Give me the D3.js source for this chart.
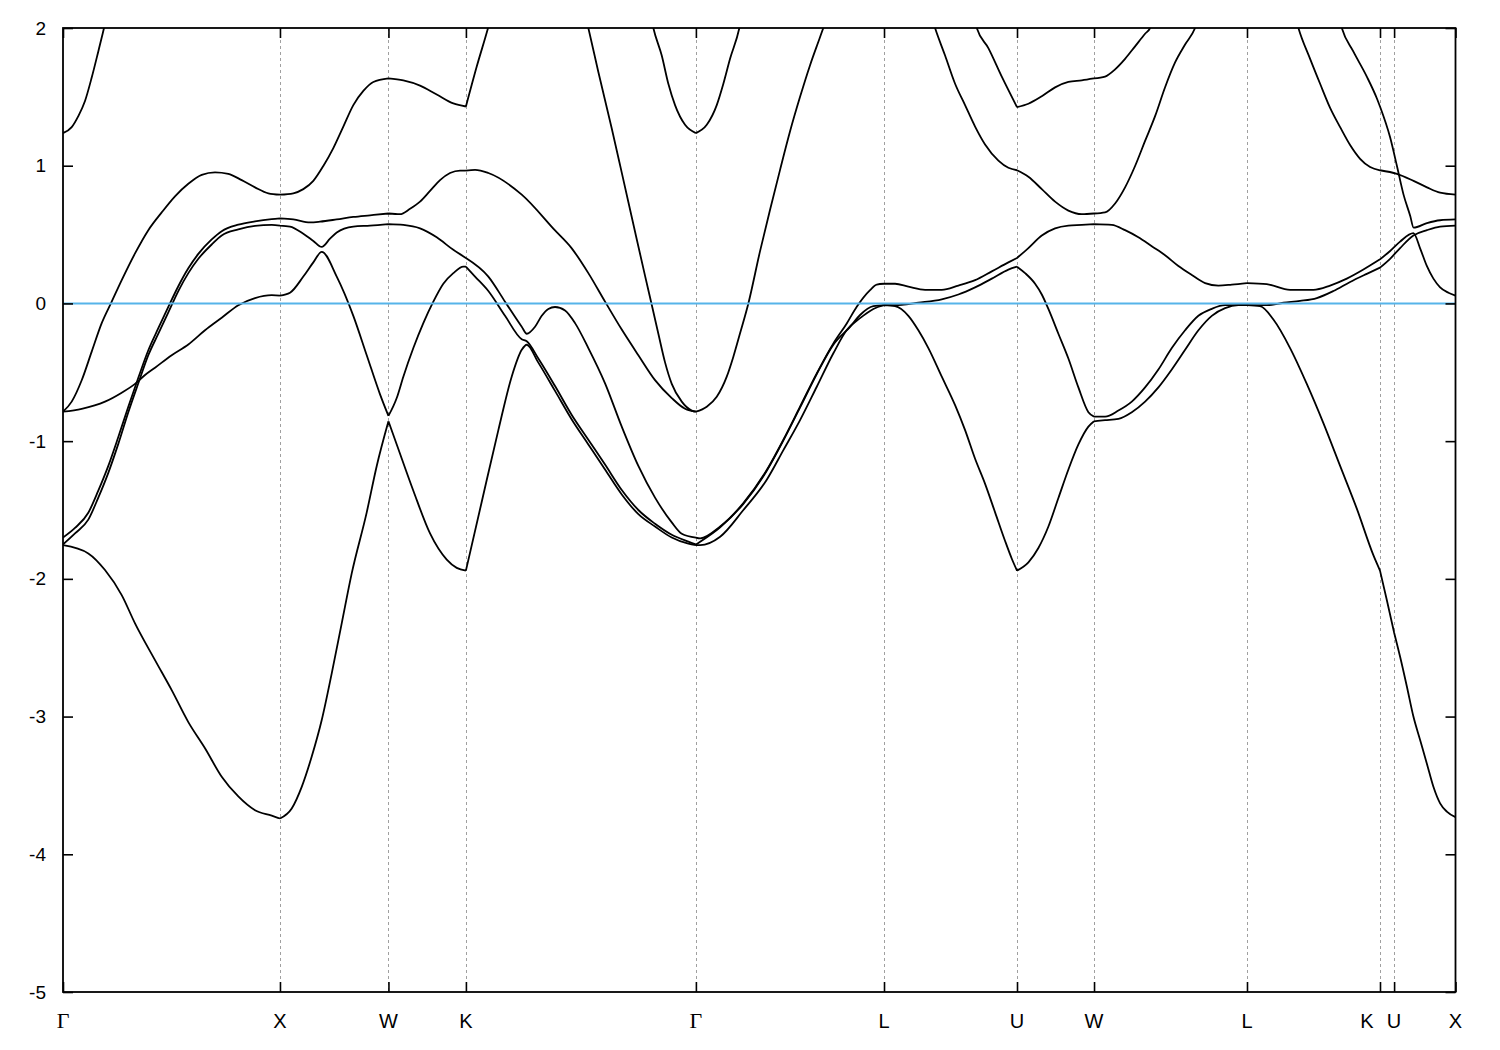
<!DOCTYPE html>
<html>
<head>
<meta charset="utf-8">
<script src="https://cdn.jsdelivr.net/npm/d3@7"></script>
<style>
  html, body { margin: 0; padding: 0; background: #ffffff; }
  svg { display: block; }
</style>
</head>
<body>
<div id="chart"></div>
<script>
// ---------- data ----------
const kTicks  = [0, 1.0, 1.5, 1.857, 2.917, 3.784, 4.397, 4.752, 5.457, 6.070, 6.135, 6.418];
const kLabels = ["Γ", "X", "W", "K", "Γ", "L", "U", "W", "L", "K", "U", "X"];
const eTicks  = [-5, -4, -3, -2, -1, 0, 1, 2];
const eRange  = [-5, 2];
const fermiLevel = 0;

const band1 = [
  [0,-1.755],[0.1166,-1.815],[0.1936,-1.936],[0.2706,-2.118],[0.3319,-2.323],[0.4241,-2.59],[0.5010,-2.808],[0.5776,-3.04],[0.6545,-3.23],[0.7315,-3.437],[0.8080,-3.58],[0.8850,-3.68],[0.9620,-3.72],[1.0,-3.74],
  [1.0542,-3.667],[1.1003,-3.51],[1.1464,-3.29],[1.1925,-3.025],[1.2386,-2.686],[1.2846,-2.323],[1.3307,-1.96],[1.3999,-1.517],[1.4460,-1.18],[1.5,-0.856],
  [1.5382,-1.024],[1.6147,-1.36],[1.6917,-1.67],[1.7686,-1.86],[1.8147,-1.92],[1.857,-1.94],
  [1.9300,-1.44],[2.0065,-0.92],[2.0683,-0.53],[2.1144,-0.337],[2.1374,-0.30],
  [2.1908,-0.43],[2.2678,-0.635],[2.3448,-0.843],[2.4213,-1.024],[2.4983,-1.206],[2.5753,-1.387],[2.6518,-1.53],[2.7287,-1.62],[2.8057,-1.70],[2.8822,-1.745],[2.917,-1.755],
  [2.9366,-1.755],[3.0288,-1.694],[3.1358,-1.50],[3.2436,-1.28],[3.3202,-1.065],[3.3971,-0.847],[3.4741,-0.605],[3.5506,-0.362],[3.6123,-0.193],[3.6737,-0.107],[3.7350,-0.04],[3.784,-0.013],
  [3.8350,-0.02],[3.8963,-0.09],[3.9424,-0.195],[3.9885,-0.324],[4.0503,-0.532],[4.1116,-0.739],[4.1577,-0.92],[4.2038,-1.128],[4.2499,-1.31],[4.2960,-1.517],[4.3421,-1.725],[4.3730,-1.854],[4.397,-1.94],
  [4.4495,-1.88],[4.4956,-1.776],[4.5417,-1.62],[4.5878,-1.413],[4.6339,-1.206],[4.6800,-1.024],[4.7261,-0.895],[4.752,-0.856],
  [4.8030,-0.848],[4.8643,-0.838],[4.9261,-0.79],[4.9874,-0.713],[5.0487,-0.61],[5.1104,-0.48],[5.1718,-0.337],[5.2331,-0.195],[5.2948,-0.09],[5.3561,-0.034],[5.4174,-0.013],[5.457,-0.013],
  [5.5174,-0.02],[5.5787,-0.117],[5.6556,-0.324],[5.7326,-0.584],[5.8091,-0.869],[5.8862,-1.18],[5.9631,-1.49],[6.0399,-1.83],[6.070,-1.94],
  [6.1014,-2.154],[6.135,-2.39],[6.1627,-2.566],[6.1936,-2.78],[6.2240,-3.0],[6.2549,-3.17],[6.2858,-3.34],[6.3162,-3.51],[6.3471,-3.63],[6.3780,-3.69],[6.418,-3.73]
];

const band2 = [
  [0,-1.75],[0.0553,-1.67],[0.1166,-1.57],[0.1627,-1.41],[0.2088,-1.23],[0.2549,-1.02],[0.3010,-0.79],[0.3471,-0.58],[0.3932,-0.376],[0.4393,-0.22],[0.4854,-0.065],[0.5315,0.09],[0.5776,0.22],[0.6237,0.324],[0.6854,0.428],[0.7315,0.493],[0.8080,0.537],[0.8850,0.563],[0.9620,0.57],[1.0,0.565],
  [1.0463,0.558],[1.1076,0.506],[1.1537,0.454],[1.1925,0.41],[1.2307,0.47],[1.2616,0.515],[1.3381,0.558],[1.4151,0.565],[1.5,0.576],
  [1.5686,0.57],[1.6456,0.545],[1.7225,0.48],[1.7990,0.389],[1.857,0.33],
  [1.9604,0.195],[2.0373,0.013],[2.1143,-0.169],[2.1374,-0.22],[2.1756,-0.169],[2.2065,-0.09],[2.2369,-0.04],[2.2678,-0.026],[2.3139,-0.052],[2.3600,-0.143],[2.4213,-0.324],[2.4983,-0.58],[2.5753,-0.895],[2.6518,-1.18],[2.7287,-1.41],[2.8057,-1.59],[2.8518,-1.672],[2.917,-1.70],
  [2.9366,-1.706],[3.0288,-1.62],[3.1358,-1.45],[3.2436,-1.21],[3.3202,-0.99],[3.3971,-0.75],[3.4741,-0.508],[3.5506,-0.29],[3.6123,-0.145],[3.6584,-0.024],[3.7197,0.097],[3.7506,0.137],[3.784,0.143],
  [3.8350,0.143],[3.8963,0.122],[3.9733,0.099],[4.0503,0.099],[4.1267,0.13],[4.2038,0.169],[4.2807,0.233],[4.3572,0.298],[4.397,0.33],
  [4.4494,0.402],[4.5112,0.493],[4.5725,0.545],[4.6338,0.565],[4.6956,0.57],[4.752,0.576],
  [4.8338,0.57],[4.8951,0.532],[4.9564,0.48],[5.0182,0.415],[5.0795,0.35],[5.1408,0.272],[5.2026,0.207],[5.2639,0.148],[5.3252,0.13],[5.3870,0.137],[5.457,0.148],
  [5.5483,0.14],[5.6557,0.099],[5.7631,0.099],[5.8401,0.13],[5.9170,0.18],[5.9936,0.246],[6.070,0.32],[6.1166,0.381],[6.1627,0.449],[6.2240,0.51],[6.2549,0.40],[6.2858,0.272],[6.3162,0.18],[6.3471,0.117],[6.3853,0.078],[6.418,0.057]
];

const band3 = [
  [0,-1.70],[0.0553,-1.63],[0.1166,-1.52],[0.1627,-1.36],[0.2088,-1.18],[0.2549,-0.97],[0.3010,-0.75],[0.3471,-0.54],[0.3932,-0.34],[0.4393,-0.18],[0.4854,-0.025],[0.5315,0.125],[0.5776,0.255],[0.6237,0.36],[0.6854,0.465],[0.7315,0.525],[0.8080,0.572],[0.8850,0.596],[0.9620,0.612],[1.0,0.617],
  [1.0615,0.61],[1.1385,0.589],[1.1846,0.594],[1.2616,0.61],[1.3381,0.628],[1.4151,0.64],[1.5,0.653],
  [1.5533,0.648],[1.5994,0.687],[1.6456,0.739],[1.6917,0.817],[1.7377,0.895],[1.7838,0.947],[1.8299,0.965],[1.857,0.965],
  [1.8991,0.97],[1.9604,0.947],[2.1143,0.79],[2.2678,0.53],[2.3448,0.40],[2.4213,0.22],[2.4983,0.013],[2.5753,-0.19],[2.6518,-0.376],[2.7287,-0.557],[2.8057,-0.687],[2.8670,-0.765],[2.917,-0.786],
  [2.9671,-0.75],[3.0131,-0.678],[3.0592,-0.532],[3.0897,-0.387],[3.1205,-0.217],[3.1588,0.0],[3.2127,0.38],[3.2588,0.68],[3.3049,0.97],[3.3510,1.25],[3.3971,1.50],[3.4432,1.73],[3.4815,1.90],[3.5045,2.0],[3.517,2.05],
  null,
  [4.0056,2.07],[4.0194,2.0],[4.0655,1.80],[4.1116,1.595],[4.1576,1.44],[4.2038,1.284],[4.2498,1.154],[4.3112,1.037],[4.3572,0.985],[4.397,0.967],
  [4.4494,0.92],[4.5112,0.83],[4.5725,0.739],[4.6338,0.674],[4.6956,0.648],[4.752,0.653],
  [4.8030,0.661],[4.8491,0.726],[4.8951,0.843],[4.9412,0.998],[4.9873,1.18],[5.0334,1.36],[5.0795,1.57],[5.1256,1.75],[5.1717,1.88],[5.2178,2.0],[5.2316,2.06],
  null,
  [5.6834,2.06],[5.6940,2.0],[5.7479,1.776],[5.7940,1.595],[5.8401,1.42],[5.8862,1.28],[5.9322,1.15],[5.9783,1.05],[6.0244,0.99],[6.070,0.967],[6.1481,0.941],[6.2246,0.89],[6.2864,0.843],[6.3471,0.804],[6.418,0.79]
];

const band4 = [
  [0,-0.786],[0.0862,-0.765],[0.1936,-0.713],[0.2706,-0.648],[0.3319,-0.584],[0.3780,-0.52],[0.4241,-0.467],[0.5010,-0.376],[0.5776,-0.298],[0.6545,-0.195],[0.7315,-0.104],[0.8080,-0.013],[0.8850,0.039],[0.9620,0.06],[1.0,0.057],
  [1.0463,0.078],[1.1076,0.195],[1.1537,0.298],[1.1925,0.375],[1.2616,0.195],[1.3381,-0.09],[1.3999,-0.376],[1.4612,-0.66],[1.5,-0.817],
  [1.5381,-0.687],[1.5686,-0.532],[1.6147,-0.324],[1.6607,-0.143],[1.7068,0.013],[1.7529,0.143],[1.7990,0.22],[1.8451,0.267],[1.857,0.267],
  [1.8991,0.195],[1.9604,0.09],[2.0373,-0.09],[2.1143,-0.26],[2.1374,-0.275],[2.1908,-0.40],[2.2678,-0.60],[2.3448,-0.81],[2.4213,-0.99],[2.4983,-1.17],[2.5753,-1.355],[2.6518,-1.50],[2.7287,-1.60],[2.8057,-1.68],[2.8822,-1.73],[2.917,-1.75],
  [2.9366,-1.73],[3.0288,-1.625],[3.1358,-1.455],[3.2436,-1.215],[3.3202,-0.995],[3.3971,-0.755],[3.4741,-0.513],[3.5506,-0.30],[3.6276,-0.17],[3.6737,-0.084],[3.7350,-0.02],[3.784,-0.013],
  [3.8659,-0.01],[3.9424,0.005],[4.0503,0.03],[4.1267,0.065],[4.2038,0.117],[4.2807,0.18],[4.3572,0.246],[4.397,0.267],
  [4.4342,0.22],[4.4803,0.143],[4.5112,0.065],[4.5416,-0.04],[4.5877,-0.22],[4.6338,-0.40],[4.6799,-0.61],[4.7260,-0.79],[4.752,-0.822],
  [4.8030,-0.822],[4.8643,-0.778],[4.9261,-0.713],[4.9873,-0.61],[5.0486,-0.48],[5.1104,-0.324],[5.1717,-0.195],[5.2330,-0.09],[5.2948,-0.039],[5.3561,-0.013],[5.457,-0.013],
  [5.5483,-0.013],[5.6248,0.005],[5.7018,0.018],[5.7787,0.039],[5.8553,0.09],[5.9322,0.156],[6.0092,0.215],[6.070,0.26],[6.1166,0.324],[6.1627,0.402],[6.2240,0.493],[6.2864,0.532],[6.3471,0.558],[6.418,0.565]
];

const band5 = [
  [0,-0.786],[0.0401,-0.713],[0.0862,-0.558],[0.1323,-0.35],[0.1784,-0.143],[0.2245,0.013],[0.2706,0.169],[0.3319,0.363],[0.3932,0.532],[0.4549,0.661],[0.5162,0.778],[0.5776,0.869],[0.6393,0.934],[0.7006,0.952],[0.7619,0.941],[0.8237,0.895],[0.8850,0.843],[0.9463,0.80],[1.0,0.79],
  [1.0615,0.80],[1.1076,0.83],[1.1537,0.89],[1.1998,0.998],[1.2459,1.128],[1.2920,1.284],[1.3381,1.44],[1.3842,1.543],[1.4303,1.608],[1.5,1.634],
  [1.5686,1.62],[1.6456,1.582],[1.7225,1.517],[1.7990,1.452],[1.857,1.43],
  [1.9069,1.72],[1.959,2.0],[1.9728,2.08],
  null,
  [2.4061,2.1],[2.4213,2.0],[2.4674,1.68],[2.5292,1.27],[2.5753,0.95],[2.6366,0.52],[2.6827,0.20],[2.7135,-0.01],[2.7440,-0.22],[2.7748,-0.428],[2.8057,-0.584],[2.8518,-0.713],[2.8979,-0.778],[2.917,-0.786],
  null,
  [4.1991,2.07],[4.2115,2.0],[4.2650,1.854],[4.3268,1.647],[4.397,1.426],
  [4.4494,1.45],[4.5112,1.504],[4.5725,1.569],[4.6338,1.608],[4.6956,1.62],[4.752,1.634],
  [4.8030,1.647],[4.8491,1.70],[4.8951,1.776],[4.9412,1.867],[4.9873,1.958],[5.0104,2.0],[5.0242,2.06],
  null,
  [5.8838,2.06],[5.8940,2.0],[5.9475,1.828],[6.0092,1.647],[6.0553,1.49],[6.070,1.43],[6.1166,1.206],[6.1481,0.998],[6.1785,0.79],[6.2094,0.635],[6.2250,0.55],[6.2864,0.583],[6.3471,0.604],[6.418,0.61]
];

const band6 = [
  [0,1.237],[0.0401,1.28],[0.0705,1.36],[0.1014,1.47],[0.1323,1.64],[0.1627,1.83],[0.1830,1.96],[0.1890,2.0],[0.1982,2.06],
  null,
  [2.7126,2.06],[2.7209,2.0],[2.7596,1.80],[2.7900,1.595],[2.8209,1.44],[2.8670,1.297],[2.917,1.237],[2.9671,1.297],[3.0131,1.44],[3.0436,1.595],[3.0744,1.776],[3.1173,2.0],[3.1251,2.06]
];

const bands = [band1, band2, band3, band4, band5, band6];

// ---------- layout ----------
const W = 1500, H = 1050;
const plot = { left: 63, right: 1455.5, top: 28, bottom: 992 };

const svg = d3.select("#chart").append("svg")
  .attr("width", W).attr("height", H)
  .style("background", "#fff");

const x = d3.scaleLinear().domain([kTicks[0], kTicks[kTicks.length - 1]]).range([plot.left, plot.right]);
const y = d3.scaleLinear().domain(eRange).range([plot.bottom, plot.top]);

svg.append("defs").append("clipPath").attr("id", "clip")
  .append("rect")
  .attr("x", plot.left).attr("y", plot.top)
  .attr("width", plot.right - plot.left).attr("height", plot.bottom - plot.top);

// dashed vertical lines at high-symmetry points
svg.append("g").selectAll("line")
  .data(kTicks.slice(1, -1))
  .join("line")
  .attr("x1", d => Math.round(x(d)) + 0.5).attr("x2", d => Math.round(x(d)) + 0.5)
  .attr("y1", plot.top).attr("y2", plot.bottom)
  .attr("stroke", "#a0a0a0").attr("stroke-width", 1)
  .attr("stroke-dasharray", "3,3");

// bands
function pieces(band) {
  const out = [];
  let cur = [];
  const isTick = k => kTicks.some(t => Math.abs(t - k) < 1e-6);
  for (const p of band) {
    if (p === null) { if (cur.length > 1) out.push(cur); cur = []; continue; }
    cur.push(p);
    if (isTick(p[0]) && cur.length > 1) { out.push(cur); cur = [p]; }
  }
  if (cur.length > 1) out.push(cur);
  return out;
}
const line = d3.line().x(d => x(d[0])).y(d => y(d[1])).curve(d3.curveMonotoneX);
const gBands = svg.append("g").attr("clip-path", "url(#clip)");
bands.forEach(b => {
  gBands.append("path")
    .attr("d", pieces(b).map(p => line(p)).join(""))
    .attr("fill", "none")
    .attr("stroke", "#000")
    .attr("stroke-width", 1.8)
    .attr("stroke-linejoin", "round");
});

// Fermi level
svg.append("line")
  .attr("x1", plot.left).attr("x2", plot.right)
  .attr("y1", y(fermiLevel)).attr("y2", y(fermiLevel))
  .attr("stroke", "#56b4e9").attr("stroke-width", 2);

// axes (gnuplot-style inward ticks on all sides)
const tickLen = 10;
const axL = d3.axisLeft(y).tickValues(eTicks).tickSize(-tickLen).tickPadding(tickLen + 7).tickFormat(d => String(d));
const axR = d3.axisRight(y).tickValues(eTicks).tickSize(-tickLen).tickFormat("");
const axB = d3.axisBottom(x).tickValues(kTicks).tickSize(-tickLen).tickFormat("");
const axT = d3.axisTop(x).tickValues(kTicks).tickSize(-tickLen).tickFormat("");

function styleAxis(g) {
  g.select(".domain").remove();
  g.selectAll(".tick line").attr("stroke", "#000").attr("stroke-width", 1.6);
}
svg.append("g").attr("transform", `translate(${plot.left},0)`).call(axL).call(styleAxis)
  .selectAll("text").attr("font-family", "Liberation Sans, Arial, sans-serif").attr("font-size", 19).attr("fill", "#000");
svg.append("g").attr("transform", `translate(${plot.right},0)`).call(axR).call(styleAxis);
svg.append("g").attr("transform", `translate(0,${plot.bottom})`).call(axB).call(styleAxis);
svg.append("g").attr("transform", `translate(0,${plot.top})`).call(axT).call(styleAxis);

// frame
svg.append("rect")
  .attr("x", plot.left).attr("y", plot.top)
  .attr("width", plot.right - plot.left).attr("height", plot.bottom - plot.top)
  .attr("fill", "none").attr("stroke", "#000").attr("stroke-width", 1.8);

// x tick labels
svg.append("g").selectAll("text")
  .data(kTicks.map((k, i) => ({ k, label: kLabels[i], i })))
  .join("text")
  .attr("x", d => {
    const next = kTicks[d.i + 1];
    const crowded = next !== undefined && (x(next) - x(d.k)) < 20;
    return x(d.k) - (crowded ? 13 : 0);
  })
  .attr("y", 1028)
  .attr("text-anchor", "middle")
  .attr("font-family", d => d.label === "Γ" ? "Liberation Serif, Times New Roman, serif" : "Liberation Sans, Arial, sans-serif")
  .attr("font-size", d => d.label === "Γ" ? 22 : 20)
  .attr("fill", "#000")
  .text(d => d.label);
</script>
</body>
</html>
